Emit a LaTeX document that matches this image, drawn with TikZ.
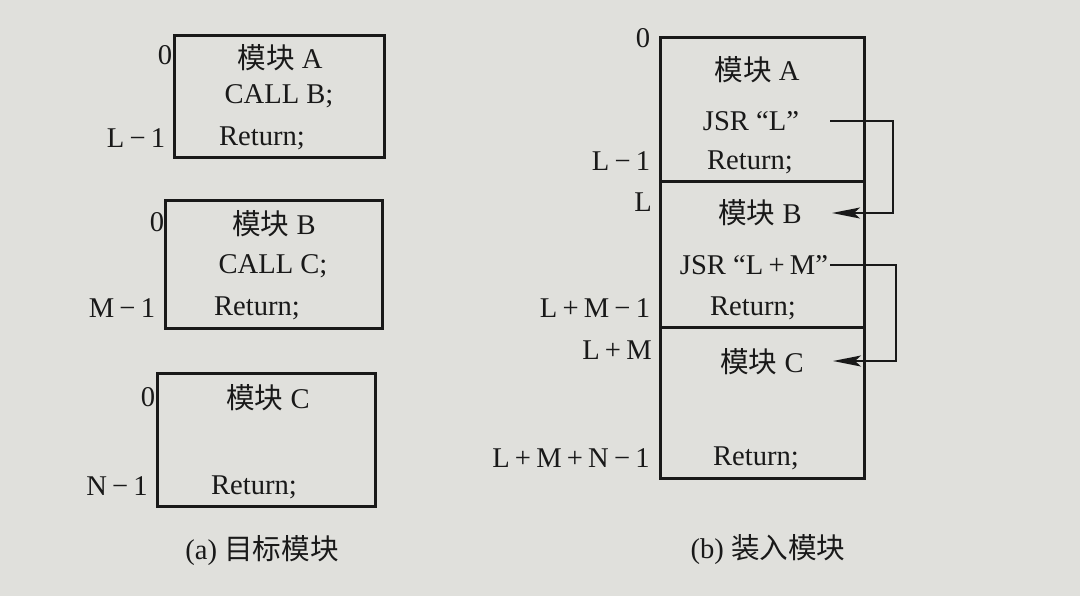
\documentclass[tikz,border=0pt]{standalone}
\usepackage{fontspec}
\setmainfont{Liberation Serif}
\newfontfamily\cjk{Noto Sans CJK SC}
\usetikzlibrary{arrows.meta}
\definecolor{paper}{RGB}{224,224,220}
\definecolor{ink}{RGB}{25,25,25}
\newcommand\myop[1]{\hspace{2.6pt}#1\hspace{2.6pt}}
\begin{document}
\begin{tikzpicture}[x=0.5pt,y=-0.5pt,
  box/.style={draw=ink,line width=1.5pt,inner sep=0pt},
  txt/.style={text=ink,font=\fontsize{14.3}{16}\selectfont,inner sep=1pt},
  conn/.style={draw=ink,line width=0.8pt,-{Stealth[length=14pt,width=5.5pt,inset=3pt]}}]
\fill[paper] (0,0) rectangle (1080,596);
\useasboundingbox (0,0) rectangle (1080,596);

% ---------- (a) left boxes ----------
\node[box,minimum width=105pt,minimum height=61pt] (boxA) at (279,96) {};
\node[txt] (aA) at (280,58) {{\cjk 模块} A};
\node[txt] (aCall) at (279,96) {CALL B;};
\node[txt] (aRet) at (262,138) {Return;};
\node[txt] (a0) at (165,55) {0};
\node[txt] (aL1) at (136,138) {L\myop{−}1};

\node[box,minimum width=108.5pt,minimum height=64pt] (boxB) at (273.5,264) {};
\node[txt] (bB) at (274,224) {{\cjk 模块} B};
\node[txt] (bCall) at (273,266) {CALL C;};
\node[txt] (bRet) at (257,308) {Return;};
\node[txt] (b0) at (157,222) {0};
\node[txt] (bM1) at (122,308) {M\myop{−}1};

\node[box,minimum width=109pt,minimum height=66.5pt] (boxC) at (266,439.5) {};
\node[txt] (cC) at (268,398) {{\cjk 模块} C};
\node[txt] (cRet) at (254,487) {Return;};
\node[txt] (c0) at (148,397) {0};
\node[txt] (cN1) at (117,486) {N\myop{−}1};

\node[txt] (capA) at (262,551) {(a) {\cjk 目标模块}};

% ---------- (b) loaded module ----------
\node[box,minimum width=102pt,minimum height=72pt] (rA) at (762,109) {};
\node[box,minimum width=102pt,minimum height=73pt] (rB) at (762,254) {};
\node[box,minimum width=102pt,minimum height=75.5pt] (rC) at (762,402.5) {};

\node[txt] (r0) at (643,38) {0};
\node[txt] (rAt) at (757,70) {{\cjk 模块} A};
\node[txt] (jsrL) at (751,121) {JSR “L”};
\node[txt] (rRetA) at (750,162) {Return;};
\node[txt] (rL1) at (621,161) {L\myop{−}1};

\node[txt] (rL) at (643,202) {L};
\node[txt] (rBt) at (760,213) {{\cjk 模块} B};
\node[txt] (jsrLM) at (754,265) {JSR “L\myop{+}M”};
\node[txt] (rRetB) at (753,308) {Return;};
\node[txt] (rLM1) at (595,308) {L\myop{+}M\myop{−}1};

\node[txt] (rLM) at (617,350) {L\myop{+}M};
\node[txt] (rCt) at (762,362) {{\cjk 模块} C};
\node[txt] (rRetC) at (756,458) {Return;};
\node[txt] (rLMN1) at (571,458) {L\myop{+}M\myop{+}N\myop{−}1};

\node[txt] (capB) at (768,550) {(b) {\cjk 装入模块}};

% ---------- connectors ----------
\coordinate (s1) at (830,121);
\coordinate (v1) at (893,0);
\coordinate (t1) at (832,213);
\draw[conn] (s1) -- (s1 -| v1) |- (t1);

\coordinate (v2) at (896,0);
\coordinate (t2) at (833,361);
\draw[conn] (jsrLM.east) -- (jsrLM.east -| v2) |- (t2);
\end{tikzpicture}
\end{document}
